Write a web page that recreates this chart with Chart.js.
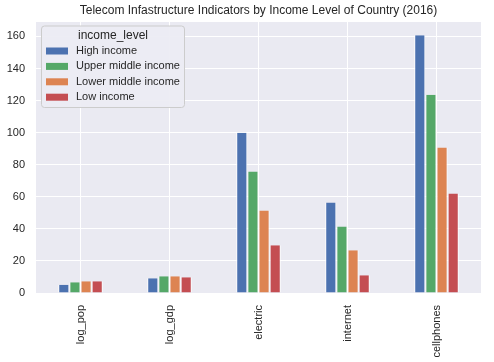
<!DOCTYPE html>
<html><head><meta charset="utf-8">
<script src="https://cdn.jsdelivr.net/npm/chart.js@4/dist/chart.umd.min.js"></script>
<style>html,body{margin:0;padding:0;background:#fff}#w{width:494px;height:362px}</style>
</head><body><div id="w"><canvas id="c" width="494" height="362"></canvas></div>
<script>
const categories = ["log_pop", "log_gdp", "electric", "internet", "cellphones"];
const seriesNames = ["High income", "Upper middle income", "Lower middle income", "Low income"];
const highIncome = [5.1, 9.2, 100.0, 56.5, 160.8];
const upperMiddleIncome = [6.7, 10.4, 75.7, 41.5, 123.6];
const lowerMiddleIncome = [7.3, 10.4, 51.5, 26.6, 90.7];
const lowIncome = [7.3, 9.8, 29.7, 11.1, 62.1];
const yTicks = [0, 20, 40, 60, 80, 100, 120, 140, 160];
const chartTitle = 'Telecom Infastructure Indicators by Income Level of Country (2016)';
const legendTitle = 'income_level';
const colors = ["#4C72B0", "#55A868", "#DD8452", "#C44E52"];
const FONT = "'Liberation Sans', Arial, sans-serif";

const legendPlugin = {
  id: 'boxLegend',
  afterDraw(chart) {
    const ctx = chart.ctx;
    const x0 = 41, y0 = 25.5, w = 143, h = 81.5;
    ctx.save();
    ctx.beginPath();
    ctx.roundRect(x0 + 0.5, y0 + 0.5, w, h, 3);
    ctx.fillStyle = 'rgba(236,236,243,0.95)';
    ctx.fill();
    ctx.strokeStyle = '#cccccc';
    ctx.lineWidth = 1;
    ctx.stroke();
    ctx.fillStyle = '#262626';
    ctx.font = "12px " + FONT;
    ctx.textBaseline = 'middle';
    ctx.textAlign = 'center';
    ctx.fillText(legendTitle, 113, 35.5);
    ctx.font = "11px " + FONT;
    ctx.textAlign = 'left';
    seriesNames.forEach((n, i) => {
      const cy = 51 + i * 15.4;
      ctx.fillStyle = colors[i];
      ctx.fillRect(46, cy - 3.5, 22, 7);
      ctx.fillStyle = '#262626';
      ctx.fillText(n, 76, cy);
    });
    const a = chart.chartArea;
    ctx.font = "12px " + FONT;
    ctx.textAlign = 'center';
    ctx.textBaseline = 'middle';
    ctx.fillStyle = '#262626';
    ctx.fillText(chartTitle, (a.left + a.right) / 2, 11);
    ctx.restore();
  }
};
const bgPlugin = {
  id: 'bg',
  beforeDraw(chart) {
    const a = chart.chartArea, ctx = chart.ctx;
    ctx.save();
    ctx.fillStyle = '#EAEAF2';
    ctx.fillRect(a.left, a.top, a.right - a.left, a.bottom - a.top);
    ctx.restore();
  }
};

const seriesData = [highIncome, upperMiddleIncome, lowerMiddleIncome, lowIncome];
new Chart(document.getElementById('c'), {
  type: 'bar',
  data: {
    labels: categories,
    datasets: seriesNames.map((n, i) => ({
      label: n, data: seriesData[i], backgroundColor: colors[i],
      borderColor: '#ffffff', borderWidth: { left: 1, right: 1, top: 0, bottom: 0 },
      categoryPercentage: 0.5, barPercentage: 1.0
    }))
  },
  options: {
    responsive: false, animation: false, devicePixelRatio: 1,
    layout: { padding: { left: 0, right: 13, top: 22, bottom: 0 } },
    plugins: {
      legend: { display: false },
      tooltip: { enabled: false },
      title: { display: false }
    },
    scales: {
      x: {
        grid: { color: '#ffffff', lineWidth: 1, offset: false, drawTicks: false },
        border: { display: false },
        ticks: { color: '#262626', font: { family: FONT, size: 11 }, minRotation: 90, maxRotation: 90, padding: 12 },
        afterFit(s) { s.height = 69; }
      },
      y: {
        min: 0, max: 169,
        grid: { color: '#ffffff', lineWidth: 1, drawTicks: false },
        border: { display: false },
        ticks: { color: '#262626', font: { family: FONT, size: 11 }, padding: 11, stepSize: 20 },
        afterBuildTicks(s) { s.ticks = yTicks.map(v => ({ value: v })); },
        afterFit(s) { s.width = 36; }
      }
    }
  },
  plugins: [bgPlugin, legendPlugin]
});
</script></body></html>
